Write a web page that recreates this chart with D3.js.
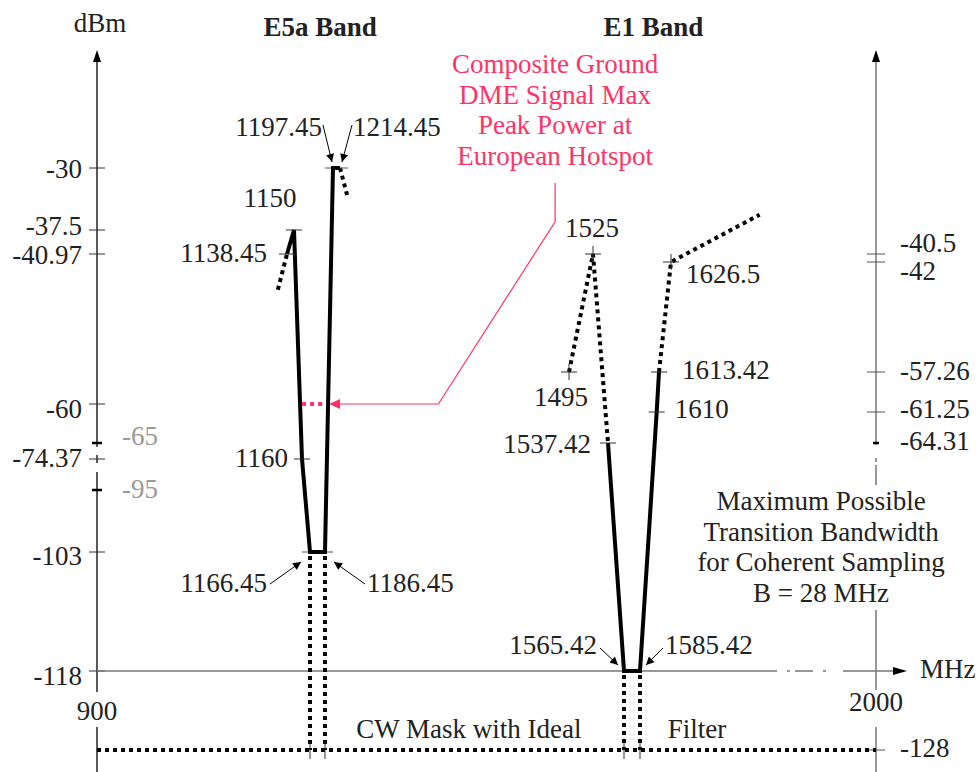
<!DOCTYPE html>
<html><head><meta charset="utf-8">
<script src="https://cdn.jsdelivr.net/npm/d3@7"></script>
<style>
body{margin:0;background:#fff}
text{font-family:"Liberation Serif","Times New Roman",serif;font-size:27px;fill:#222}
</style>
</head><body>
<svg id="c" width="980" height="772"></svg>
<script>
// ---------------- DATA ----------------
// frequency knots of the schematic (non-uniform) frequency axis, MHz
const freqKnots = [900,1138.45,1150,1160,1166.45,1186.45,1197.45,1214.45,1495,1525,1537.42,1565.42,1585.42,1613.42,1626.5,2000];
// power knots (dBm) of the schematic left axis (E5a) and right axis (E1)
const leftKnots  = [-30,-37.5,-40.97,-60,-65,-74.37,-95,-103,-118,-128];
const rightKnots = [-30,-40.5,-42,-57.26,-61.25,-64.31,-118,-128];

const leftTicks  = [-30,-37.5,-40.97,-60,-74.37,-103,-118];
const leftBreaks = [-65,-95];
const rightTicks = [-40.5,-42,-57.26,-61.25,-64.31,-128];
const xTicks = [900,2000];

const bandTitles = ["E5a Band","E1 Band"];
const bandTitleFreq = [1180,1605];

// E5a mask (left scale)
const e5aSolid = [[1138.45,-40.97],[1150,-37.5],[1160,-74.37],[1166.45,-103],[1186.45,-103],[1197.45,-30],[1214.45,-30]];
const e5aDotLeft = [[1127,-45.5],[1138.45,-40.97]];
const e5aDotRight = [[1214.45,-30],[1224,-33.6]];
const e5aEdges = [1166.45,1186.45];

// E1 mask (right scale)
const e1DotLeft = [[1495,-57.26],[1525,-40.5],[1537.42,-64.31]];
const e1Solid = [[1537.42,-64.31],[1565.42,-118],[1585.42,-118],[1610,-61.25],[1613.42,-57.26]];
const e1DotRight = [[1613.42,-57.26],[1626.5,-42],[1788,-35.7]];
const e1Edges = [1565.42,1585.42];

const floorLevel = -128;
const dmeLevel = -60;
const dmeLeader = [[1335,-60],[1478,-36.5],[1478,-31.8]];
const dmeText = ["Composite Ground","DME Signal Max","Peak Power at","European Hotspot"];
const bwText = ["Maximum Possible","Transition Bandwidth","for Coherent Sampling","B = 28 MHz"];
const bwFreq = 1900;
const cwText = ["CW Mask with Ideal","Filter"];
const cwFreq = [1372.4,1674];

// point labels: text, freq, level, which scale
const pointLabels = [
  {t:"1138.45",f:1138.45,v:-40.97,s:"L"},
  {t:"1150",f:1150,v:-37.5,s:"L"},
  {t:"1160",f:1160,v:-74.37,s:"L"},
  {t:"1166.45",f:1166.45,v:-103,s:"L"},
  {t:"1186.45",f:1186.45,v:-103,s:"L"},
  {t:"1197.45",f:1197.45,v:-30,s:"L"},
  {t:"1214.45",f:1214.45,v:-30,s:"L"},
  {t:"1495",f:1495,v:-57.26,s:"R"},
  {t:"1525",f:1525,v:-40.5,s:"R"},
  {t:"1537.42",f:1537.42,v:-64.31,s:"R"},
  {t:"1565.42",f:1565.42,v:-118,s:"R"},
  {t:"1585.42",f:1585.42,v:-118,s:"R"},
  {t:"1610",f:1610,v:-61.25,s:"R"},
  {t:"1613.42",f:1613.42,v:-57.26,s:"R"},
  {t:"1626.5",f:1626.5,v:-42,s:"R"}
];

// ---------------- LAYOUT ----------------
const labelLayout = {
  "1138.45":{dx:-20,dy:8,a:"end",tick:"h"},
  "1150":{dx:-24,dy:-23,a:"middle",tick:"h"},
  "1160":{dx:-14,dy:8,a:"end",tick:"h"},
  "1166.45":{dx:-43,dy:40,a:"end",arrow:[-40,32,-9,10]},
  "1186.45":{dx:42,dy:40,a:"start",arrow:[40,32,9,10]},
  "1197.45":{dx:-11,dy:-32,a:"end",arrow:[-10,-43,-1,-6]},
  "1214.45":{dx:13,dy:-32,a:"start",arrow:[12,-43,2,-6]},
  "1495":{dx:-8,dy:34,a:"middle",tick:"+"},
  "1525":{dx:-1,dy:-17,a:"middle",tick:"+"},
  "1537.42":{dx:-17,dy:10,a:"end",tick:"h"},
  "1565.42":{dx:-27,dy:-17,a:"end",arrow:[-24,-23,-6,-6]},
  "1585.42":{dx:25,dy:-17,a:"start",arrow:[23,-23,6,-6]},
  "1610":{dx:18,dy:6,a:"start",tick:"h"},
  "1613.42":{dx:23,dy:7,a:"start",tick:"h"},
  "1626.5":{dx:15,dy:21,a:"start",tick:"+"}
};
const leftLabelDy = {"-30":10,"-37.5":5,"-40.97":10,"-60":14,"-74.37":8,"-103":13,"-118":14};
const rightLabelDy = {"-40.5":-2,"-42":18,"-57.26":8,"-61.25":6,"-64.31":7,"-128":7};

const X0 = 97, X1 = 876, TOP = 50;
const x = d3.scaleLinear().domain(freqKnots)
  .range([97,287,294,302,310,325,333,340,569,593,608,624,640,659,671,876]);
const yL = d3.scaleLinear().domain(leftKnots).range([168,230,254,404,443,459,490,552,671,750]);
const yR = d3.scaleLinear().domain(rightKnots).range([168,254,262,372,412,443,671,750]);

const svg = d3.select("#c");
const defs = svg.append("defs");
defs.append("marker").attr("id","ah").attr("viewBox","0 0 10 10").attr("refX",10).attr("refY",5)
  .attr("markerWidth",11).attr("markerHeight",8).attr("markerUnits","userSpaceOnUse").attr("orient","auto")
  .append("path").attr("d","M0,0L10,5L0,10Z").attr("fill","#000");

const line = s => d3.line().x(d=>x(d[0])).y(d=>s(d[1]));
const yAxisY = yL(-118), yFloor = yL(floorLevel);

// ---------- axes ----------
// left axis (black), with breaks
const la = svg.append("g").attr("stroke","#000").attr("stroke-width",1.3);
[[TOP+10, yL(-65)+4],[yL(-74.37)-4, yL(-74.37)+4],[yL(-95)-18, 692],[727,772]].forEach(s=>
  la.append("line").attr("x1",X0).attr("x2",X0).attr("y1",s[0]).attr("y2",s[1]));
svg.append("path").attr("d",`M${X0},${TOP}l-4,12h8z`).attr("fill","#000");
leftTicks.forEach(v=>svg.append("line").attr("x1",X0-8).attr("x2",X0+8).attr("y1",yL(v)).attr("y2",yL(v))
  .attr("stroke","#333").attr("stroke-width",1));
leftBreaks.forEach(v=>svg.append("line").attr("x1",X0-5).attr("x2",X0+5).attr("y1",yL(v)).attr("y2",yL(v))
  .attr("stroke","#000").attr("stroke-width",2.5));
leftTicks.forEach(v=>svg.append("text").attr("x",X0-15).attr("y",yL(v)+leftLabelDy[String(v)])
  .attr("text-anchor","end").text(String(v)));
leftBreaks.forEach(v=>svg.append("text").attr("x",X0+25).attr("y",yL(v)+(v===-65?2:8))
  .attr("fill","#999").style("fill","#999").text(String(v)));
svg.append("text").attr("x",X0+3).attr("y",32).attr("text-anchor","middle").text("dBm");

// right axis (gray)
const ra = svg.append("g").attr("stroke","#777").attr("stroke-width",1.5);
[[TOP+10, yR(-64.31)+2],[yR(-64.31)+15, yR(-64.31)+19],[yR(-64.31)+22, yR(-64.31)+42],[610,690],[727,772]].forEach(s=>
  ra.append("line").attr("x1",X1).attr("x2",X1).attr("y1",s[0]).attr("y2",s[1]));
svg.append("path").attr("d",`M${X1},${TOP}l-4,12h8z`).attr("fill","#000");
rightTicks.forEach(v=>{
  const bold = v===-64.31;
  svg.append("line").attr("x1",bold?X1-3:X1-9).attr("x2",X1+(bold?3:9)).attr("y1",yR(v)).attr("y2",yR(v))
    .attr("stroke",bold?"#000":"#555").attr("stroke-width",bold?2.5:1);
  svg.append("text").attr("x",X1+24).attr("y",yR(v)+rightLabelDy[String(v)]).text(String(v));
});

// x axis (gray) with dash-dot section
const xa = svg.append("g").attr("stroke","#777").attr("stroke-width",1.5);
[[X0,777],[787,790],[795,813],[823,826],[843,895]].forEach(s=>
  xa.append("line").attr("x1",s[0]).attr("x2",s[1]).attr("y1",yAxisY).attr("y2",yAxisY));
svg.append("path").attr("d",`M907,${yAxisY}l-14,-4v8z`).attr("fill","#000");
svg.append("text").attr("x",920).attr("y",yAxisY+7).text("MHz");
svg.append("text").attr("x",x(900)).attr("y",720).attr("text-anchor","middle").text("900");
svg.append("text").attr("x",x(2000)).attr("y",711).attr("text-anchor","middle").text("2000");

// titles
bandTitles.forEach((t,i)=>svg.append("text").attr("x",x(bandTitleFreq[i])).attr("y",36)
  .attr("text-anchor","middle").attr("font-weight","bold").style("font-weight","bold").text(t));

// ---------- masks ----------
const solid = p => p.attr("fill","none").attr("stroke","#000").attr("stroke-width",4)
  .attr("stroke-linejoin","miter").attr("stroke-miterlimit",6);
const dotted = p => p.attr("fill","none").attr("stroke","#000").attr("stroke-width",4).attr("stroke-dasharray","4,4");

// floor line
svg.append("line").attr("x1",X0).attr("x2",X1).attr("y1",yFloor).attr("y2",yFloor).call(dotted);
// vertical edges
e5aEdges.forEach(f=>svg.append("line").attr("x1",x(f)).attr("x2",x(f)).attr("y1",yL(-103)+4).attr("y2",yFloor).call(dotted));
e1Edges.forEach(f=>svg.append("line").attr("x1",x(f)).attr("x2",x(f)).attr("y1",yR(-118)+4).attr("y2",yFloor).call(dotted));
[...e5aEdges,...e1Edges].forEach(f=>svg.append("line").attr("x1",x(f)).attr("x2",x(f))
  .attr("y1",yFloor-8).attr("y2",yFloor+9).attr("stroke","#333").attr("stroke-width",1));

svg.append("path").attr("d",line(yL)(e5aDotLeft)).call(dotted);
svg.append("path").attr("d",line(yL)(e5aDotRight)).call(dotted);
svg.append("path").attr("d",line(yR)(e1DotLeft)).call(dotted);
svg.append("path").attr("d",line(yR)(e1DotRight)).call(dotted);

// flat ticks
svg.append("line").attr("x1",x(1197.45)-8).attr("x2",x(1214.45)+8).attr("y1",yL(-30)).attr("y2",yL(-30)).attr("stroke","#555");
svg.append("line").attr("x1",x(1166.45)-8).attr("x2",x(1186.45)+8).attr("y1",yL(-103)).attr("y2",yL(-103)).attr("stroke","#555");

svg.append("path").attr("d",line(yL)(e5aSolid)).call(solid);
svg.append("path").attr("d",line(yR)(e1Solid)).call(solid);

// ---------- point labels ----------
pointLabels.forEach(p=>{
  const L = labelLayout[p.t], ys = p.s==="L"?yL:yR;
  const px = x(p.f), py = ys(p.v);
  if (L.tick) {
    svg.append("line").attr("x1",px-8).attr("x2",px+8).attr("y1",py).attr("y2",py).attr("stroke","#333").attr("stroke-width",1);
    if (L.tick==="+") svg.append("line").attr("x1",px).attr("x2",px).attr("y1",py-8).attr("y2",py+8).attr("stroke","#333").attr("stroke-width",1);
  }
  if (L.arrow) {
    const a = L.arrow;
    svg.append("line").attr("x1",px+a[0]).attr("y1",py+a[1]).attr("x2",px+a[2]).attr("y2",py+a[3])
      .attr("stroke","#000").attr("stroke-width",1).attr("marker-end","url(#ah)");
  }
  svg.append("text").attr("x",px+L.dx).attr("y",py+L.dy).attr("text-anchor",L.a).text(p.t);
});

// ---------- DME annotation ----------
const PINK = "#ff3366";
function crossX(pts, s, level) {
  const yy = s(level), out = [];
  for (let i=0;i<pts.length-1;i++){
    const ax=x(pts[i][0]), ay=s(pts[i][1]), bx=x(pts[i+1][0]), by=s(pts[i+1][1]);
    if ((ay-yy)*(by-yy)<=0 && ay!==by) out.push(ax+(bx-ax)*(yy-ay)/(by-ay));
  }
  return out;
}
const cx = crossX(e5aSolid, yL, dmeLevel);
const xa1 = cx[0]+2, xa2 = cx[cx.length-1];
const yd = yL(dmeLevel);
svg.append("line").attr("x1",xa1).attr("x2",xa2-2).attr("y1",yd).attr("y2",yd)
  .attr("stroke",PINK).attr("stroke-width",4).attr("stroke-dasharray","4,4");
svg.append("path").attr("d",`M${xa2+1},${yd}l11,-5v10z`).attr("fill",PINK);
const leaderPts = [[xa2+12,yd], ...dmeLeader.map(d=>[x(d[0]),yL(d[1])])];
svg.append("path").attr("d",d3.line()(leaderPts)).attr("fill","none").attr("stroke",PINK).attr("stroke-width",1.2);
dmeText.forEach((t,i)=>svg.append("text").attr("x",x(dmeLeader[1][0])).attr("y",73+i*30.5)
  .attr("text-anchor","middle").style("fill",PINK).text(t));

// ---------- other texts ----------
bwText.forEach((t,i)=>svg.append("text").attr("x",x(bwFreq)).attr("y",510+i*30.7)
  .attr("text-anchor","middle").text(t));
cwText.forEach((t,i)=>svg.append("text").attr("x",x(cwFreq[i])).attr("y",738)
  .attr("text-anchor","middle").text(t));
</script>
</body></html>
